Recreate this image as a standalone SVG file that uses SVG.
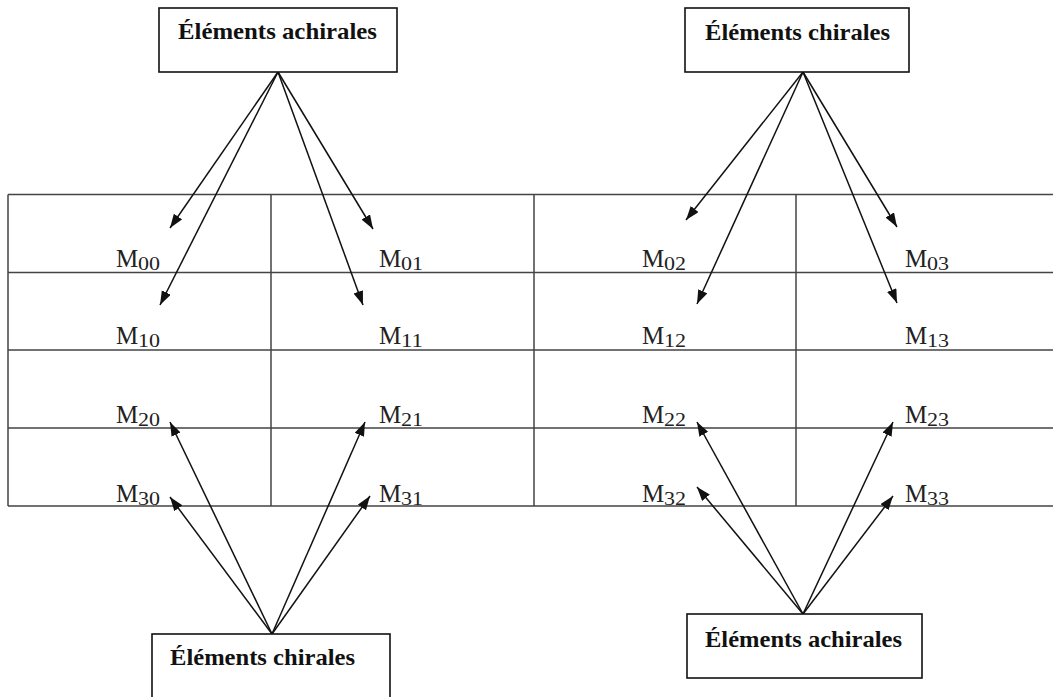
<svg xmlns="http://www.w3.org/2000/svg" width="1053" height="697" viewBox="0 0 1053 697">
<style>
.box{fill:#fff;stroke:#111;stroke-width:1.6}
.bt{font-family:"Liberation Serif","Times New Roman",serif;font-weight:bold;font-size:24px;fill:#111}
.grid{stroke:#444;stroke-width:1.5;fill:none}
.arr{stroke:#111;stroke-width:1.5;fill:none;marker-end:url(#ah)}
.m{font-family:"Liberation Serif","Times New Roman",serif;font-size:25px;fill:#222}
.s{font-family:"Liberation Serif","Times New Roman",serif;font-size:19px;fill:#222}
</style>
<defs>
<marker id="ah" markerUnits="userSpaceOnUse" markerWidth="15" markerHeight="11" refX="14" refY="5" orient="auto">
<path d="M0,0 L14,5 L0,10 z" fill="#111"/>
</marker>
</defs>
<rect width="1053" height="697" fill="#fff"/>
<g id="table">
<path class="grid" d="M8,194.5H1053M8,272.5H1053M8,350H1053M8,428H1053M8,506H1053M8,194.5V506M271,194.5V506M534,194.5V506M796,194.5V506"/>
</g>
<g id="connectors">
<line class="arr" x1="278" y1="72" x2="170" y2="228"/>
<line class="arr" x1="278" y1="72" x2="160" y2="305"/>
<line class="arr" x1="278" y1="72" x2="373" y2="229"/>
<line class="arr" x1="278" y1="72" x2="363" y2="305"/>
<line class="arr" x1="803" y1="72" x2="686" y2="220"/>
<line class="arr" x1="803" y1="72" x2="697" y2="304"/>
<line class="arr" x1="803" y1="72" x2="897" y2="227"/>
<line class="arr" x1="803" y1="72" x2="897" y2="303"/>
<line class="arr" x1="272" y1="634" x2="170" y2="422"/>
<line class="arr" x1="272" y1="634" x2="170" y2="497"/>
<line class="arr" x1="272" y1="634" x2="365" y2="422"/>
<line class="arr" x1="272" y1="634" x2="370" y2="496"/>
<line class="arr" x1="803" y1="614" x2="697" y2="422"/>
<line class="arr" x1="803" y1="614" x2="697" y2="487"/>
<line class="arr" x1="803" y1="614" x2="893" y2="422"/>
<line class="arr" x1="803" y1="614" x2="893" y2="496"/>
</g>
<g id="box-achirales-top">
<rect class="box" x="159" y="8" width="238" height="64"/>
<text class="bt" x="178" y="39" textLength="199" lengthAdjust="spacingAndGlyphs">Éléments achirales</text>
</g>
<g id="box-chirales-top">
<rect class="box" x="685" y="8" width="224" height="64"/>
<text class="bt" x="705" y="40" textLength="185" lengthAdjust="spacingAndGlyphs">Éléments chirales</text>
</g>
<g id="box-chirales-bottom">
<rect class="box" x="152" y="634" width="238" height="70"/>
<text class="bt" x="170" y="665" textLength="185" lengthAdjust="spacingAndGlyphs">Éléments chirales</text>
</g>
<g id="box-achirales-bottom">
<rect class="box" x="687" y="614" width="235" height="64"/>
<text class="bt" x="705" y="647" textLength="197" lengthAdjust="spacingAndGlyphs">Éléments achirales</text>
</g>
<g id="M00"><text class="m" x="116" y="267">M</text><text class="s" x="138" y="270" textLength="22" lengthAdjust="spacingAndGlyphs">00</text></g>
<g id="M01"><text class="m" x="379" y="267">M</text><text class="s" x="401" y="270" textLength="22" lengthAdjust="spacingAndGlyphs">01</text></g>
<g id="M02"><text class="m" x="642" y="267">M</text><text class="s" x="664" y="270" textLength="22" lengthAdjust="spacingAndGlyphs">02</text></g>
<g id="M03"><text class="m" x="905" y="267">M</text><text class="s" x="927" y="270" textLength="22" lengthAdjust="spacingAndGlyphs">03</text></g>
<g id="M10"><text class="m" x="116" y="344">M</text><text class="s" x="138" y="347" textLength="22" lengthAdjust="spacingAndGlyphs">10</text></g>
<g id="M11"><text class="m" x="379" y="344">M</text><text class="s" x="401" y="347" textLength="22" lengthAdjust="spacingAndGlyphs">11</text></g>
<g id="M12"><text class="m" x="642" y="344">M</text><text class="s" x="664" y="347" textLength="22" lengthAdjust="spacingAndGlyphs">12</text></g>
<g id="M13"><text class="m" x="905" y="344">M</text><text class="s" x="927" y="347" textLength="22" lengthAdjust="spacingAndGlyphs">13</text></g>
<g id="M20"><text class="m" x="116" y="423">M</text><text class="s" x="138" y="426" textLength="22" lengthAdjust="spacingAndGlyphs">20</text></g>
<g id="M21"><text class="m" x="379" y="423">M</text><text class="s" x="401" y="426" textLength="22" lengthAdjust="spacingAndGlyphs">21</text></g>
<g id="M22"><text class="m" x="642" y="423">M</text><text class="s" x="664" y="426" textLength="22" lengthAdjust="spacingAndGlyphs">22</text></g>
<g id="M23"><text class="m" x="905" y="423">M</text><text class="s" x="927" y="426" textLength="22" lengthAdjust="spacingAndGlyphs">23</text></g>
<g id="M30"><text class="m" x="116" y="502">M</text><text class="s" x="138" y="505" textLength="22" lengthAdjust="spacingAndGlyphs">30</text></g>
<g id="M31"><text class="m" x="379" y="502">M</text><text class="s" x="401" y="505" textLength="22" lengthAdjust="spacingAndGlyphs">31</text></g>
<g id="M32"><text class="m" x="642" y="502">M</text><text class="s" x="664" y="505" textLength="22" lengthAdjust="spacingAndGlyphs">32</text></g>
<g id="M33"><text class="m" x="905" y="502">M</text><text class="s" x="927" y="505" textLength="22" lengthAdjust="spacingAndGlyphs">33</text></g>
</svg>
